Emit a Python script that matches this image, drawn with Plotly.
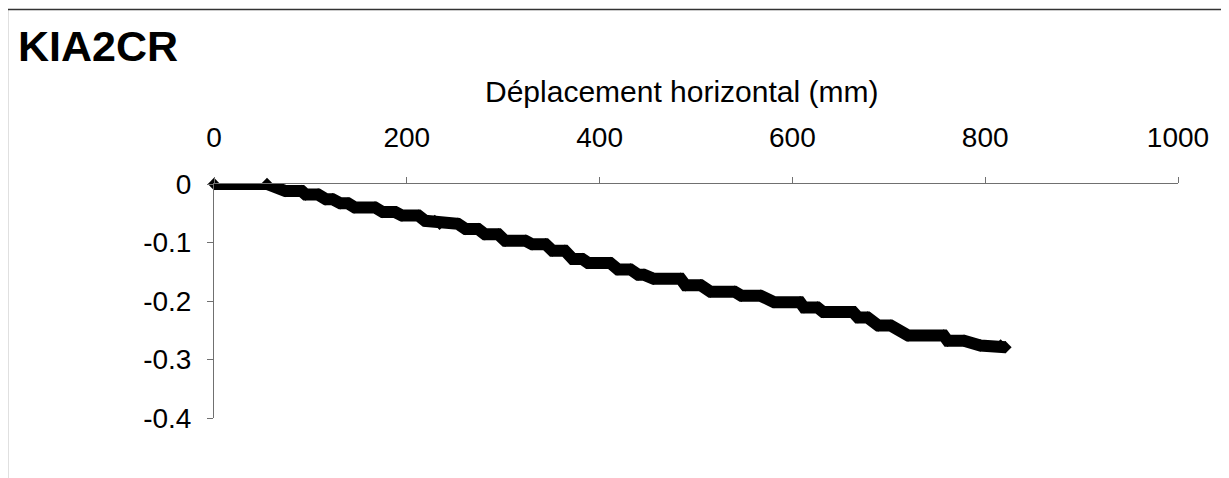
import plotly.graph_objects as go

# Data (horizontal displacement in mm vs value)
x_mm = [0, 55, 74, 91, 95, 108, 116, 123, 131, 139, 146, 167, 175, 188, 195, 212,
        219, 229, 234, 253, 261, 274, 281, 295, 302, 323, 330, 344, 351, 364,
        372, 382, 388, 411, 419, 432, 440, 446, 456, 484, 489, 505, 515, 540,
        547, 567, 581, 608, 612, 626, 632, 663, 668, 678, 689, 702, 720, 757,
        761, 778, 795, 816, 821]
y_val = [0, 0, -0.012, -0.012, -0.018, -0.018, -0.026, -0.026, -0.033, -0.033,
         -0.040, -0.040, -0.048, -0.048, -0.054, -0.054, -0.063, -0.063, -0.068, -0.068,
         -0.077, -0.077, -0.086, -0.086, -0.097, -0.097, -0.103, -0.103, -0.114, -0.114,
         -0.128, -0.128, -0.135, -0.135, -0.146, -0.146, -0.155, -0.155, -0.162, -0.162,
         -0.173, -0.173, -0.184, -0.184, -0.191, -0.191, -0.202, -0.202, -0.211, -0.211,
         -0.219, -0.219, -0.228, -0.228, -0.242, -0.242, -0.259, -0.259, -0.268, -0.268,
         -0.276, -0.276, -0.279]

x_tick_vals = [0, 200, 400, 600, 800, 1000]
x_tick_labels = ["0", "200", "400", "600", "800", "1000"]
y_tick_vals = [0, -0.1, -0.2, -0.3, -0.4]
y_tick_labels = ["0", "-0.1", "-0.2", "-0.3", "-0.4"]

chart_title = "KIA2CR"
x_title = "Déplacement horizontal (mm)"

FONT = "Arial, Liberation Sans, sans-serif"

fig = go.Figure()
fig.add_trace(go.Scatter(
    x=x_mm, y=y_val, mode="lines+markers",
    line=dict(color="black", width=12),
    marker=dict(symbol="diamond", size=9.5, color="black"),
    cliponaxis=False, showlegend=False,
))

OFF = 8  # default page body margin
W, H = 1229 - OFF, 478 - OFF
L, R, T, B = 214 - OFF, 1229 - 1178, 184 - OFF, 478 - 418
pw, ph = W - L - R, H - T - B

def px_to_paper_x(px):
    return (px - OFF - L) / pw

def py_to_paper_y(py):
    return (H - B - (py - OFF)) / ph

fig.add_shape(type="rect", xref="paper", yref="paper",
              x0=px_to_paper_x(7.5), x1=px_to_paper_x(1223.5),
              y0=py_to_paper_y(495), y1=py_to_paper_y(9.5),
              line=dict(color="#333333", width=1.3), fillcolor="rgba(0,0,0,0)",
              layer="below")

fig.add_annotation(text=x_title, xref="paper", yref="paper",
                   x=px_to_paper_x(681), y=py_to_paper_y(91),
                   xanchor="center", yanchor="middle", showarrow=False,
                   font=dict(family=FONT, size=30, color="black"))

fig.update_layout(
    width=W, height=H,
    margin=dict(l=L, r=R, t=T, b=B),
    paper_bgcolor="white", plot_bgcolor="white",
    font=dict(family=FONT, color="black", size=28),
    title=dict(text="<b>" + chart_title + "</b>", x=(18 - OFF) / W, xref="container",
               xanchor="left", y=1 - (46 - OFF) / H, yref="container", yanchor="middle",
               font=dict(family=FONT, size=43, color="black")),
    xaxis=dict(
        range=[0, 1000], side="top", showline=True, linecolor="#707070", linewidth=1,
        ticks="outside", ticklen=6, tickcolor="#707070", tickwidth=1,
        tickvals=x_tick_vals, ticktext=x_tick_labels, showgrid=False, zeroline=False,
        tickfont=dict(size=28), ticklabelstandoff=19,
    ),
    yaxis=dict(
        range=[-0.4, 0], showline=True, linecolor="#707070", linewidth=1,
        ticks="outside", ticklen=6, tickcolor="#707070", tickwidth=1,
        tickvals=y_tick_vals, ticktext=y_tick_labels, showgrid=False, zeroline=False,
        tickfont=dict(size=28), ticklabelstandoff=10,
    ),
)

fig.write_html("out.html")
